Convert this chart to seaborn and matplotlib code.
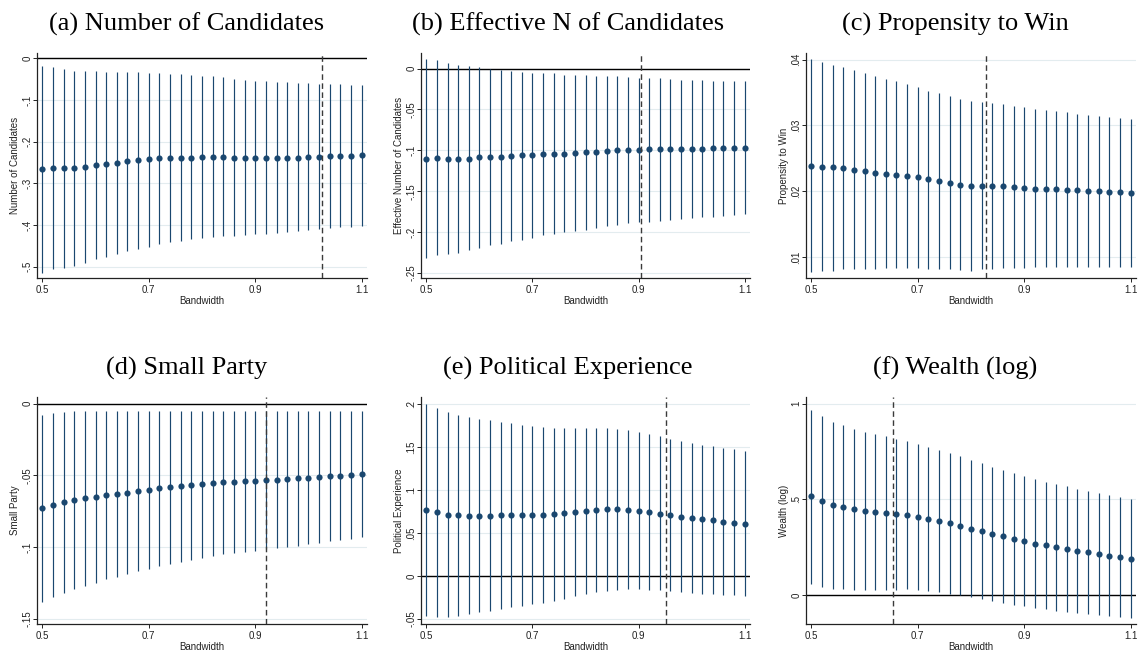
import matplotlib
matplotlib.use("Agg")
import matplotlib.pyplot as plt
import seaborn as sns

sns.set_theme(style="white")
plt.rcParams["font.family"] = ["Liberation Sans", "DejaVu Sans"]

# Bandwidths at which the RD estimate is computed
bandwidth = [0.50, 0.52, 0.54, 0.56, 0.58, 0.60, 0.62, 0.64, 0.66, 0.68,
             0.70, 0.72, 0.74, 0.76, 0.78, 0.80, 0.82, 0.84, 0.86, 0.88,
             0.90, 0.92, 0.94, 0.96, 0.98, 1.00, 1.02, 1.04, 1.06, 1.08, 1.10]

# (a) Number of candidates
est_a = [-0.266, -0.263, -0.263, -0.263, -0.260, -0.256, -0.254, -0.251, -0.247, -0.244,
         -0.242, -0.240, -0.239, -0.238, -0.238, -0.236, -0.236, -0.236, -0.238, -0.238,
         -0.238, -0.238, -0.238, -0.238, -0.238, -0.237, -0.236, -0.234, -0.234, -0.234, -0.233]
hi_a = [-0.018, -0.020, -0.026, -0.030, -0.030, -0.030, -0.033, -0.034, -0.034, -0.034,
        -0.035, -0.035, -0.037, -0.038, -0.040, -0.042, -0.043, -0.046, -0.049, -0.052,
        -0.054, -0.055, -0.057, -0.058, -0.059, -0.060, -0.061, -0.061, -0.062, -0.063, -0.063]
lo_a = [-0.516, -0.506, -0.502, -0.498, -0.490, -0.482, -0.476, -0.470, -0.462, -0.457,
        -0.452, -0.445, -0.441, -0.438, -0.434, -0.430, -0.428, -0.426, -0.426, -0.424,
        -0.422, -0.421, -0.418, -0.417, -0.414, -0.413, -0.410, -0.406, -0.405, -0.404, -0.402]

# (b) Effective number of candidates
est_b = [-0.110, -0.109, -0.110, -0.110, -0.110, -0.1085, -0.1085, -0.108, -0.107, -0.106,
         -0.106, -0.105, -0.104, -0.104, -0.103, -0.102, -0.1016, -0.101, -0.100, -0.099,
         -0.099, -0.098, -0.098, -0.098, -0.098, -0.098, -0.098, -0.0976, -0.0976, -0.0976, -0.097]
hi_b = [0.012, 0.010, 0.007, 0.0045, 0.003, 0.0016, -0.0004, -0.0016, -0.0024, -0.0037,
        -0.005, -0.0057, -0.006, -0.0073, -0.008, -0.008, -0.0093, -0.0093, -0.0093, -0.0098,
        -0.011, -0.011, -0.0118, -0.0126, -0.0134, -0.0142, -0.0146, -0.015, -0.0154, -0.0158, -0.0158]
lo_b = [-0.232, -0.228, -0.227, -0.225, -0.222, -0.219, -0.216, -0.214, -0.211, -0.209,
        -0.207, -0.204, -0.202, -0.200, -0.198, -0.197, -0.195, -0.193, -0.191, -0.189,
        -0.188, -0.187, -0.186, -0.185, -0.184, -0.183, -0.181, -0.181, -0.180, -0.179, -0.178]

# (c) Propensity to win
est_c = [0.0239, 0.0237, 0.0236, 0.0235, 0.0232, 0.0230, 0.0228, 0.0226, 0.0225, 0.0223,
         0.0221, 0.0218, 0.0215, 0.0212, 0.0210, 0.0208, 0.0208, 0.0208, 0.0208, 0.0207,
         0.0205, 0.0204, 0.0204, 0.0203, 0.0202, 0.0202, 0.0201, 0.0200, 0.0199, 0.0198, 0.0197]
hi_c = [0.0401, 0.0396, 0.0392, 0.0389, 0.0384, 0.0379, 0.0375, 0.0370, 0.0367, 0.0363,
        0.0358, 0.0353, 0.0349, 0.0344, 0.0340, 0.0337, 0.0335, 0.0334, 0.0332, 0.0330,
        0.0328, 0.0325, 0.0323, 0.0322, 0.0320, 0.0318, 0.0316, 0.0315, 0.0313, 0.0311, 0.0309]
lo_c = [0.0077, 0.0078, 0.0079, 0.0081, 0.0081, 0.0082, 0.0082, 0.0083, 0.0083, 0.0083,
        0.0083, 0.0082, 0.0081, 0.0081, 0.0080, 0.0079, 0.0081, 0.0082, 0.0083, 0.0083,
        0.0083, 0.0084, 0.0084, 0.0084, 0.0084, 0.0084, 0.0084, 0.0084, 0.0084, 0.0084, 0.0084]

# (d) Small party
est_d = [-0.0730, -0.0707, -0.0688, -0.0674, -0.0660, -0.0651, -0.0637, -0.0628, -0.0621, -0.0612,
         -0.0600, -0.0588, -0.0579, -0.0572, -0.0565, -0.0558, -0.0551, -0.0547, -0.0544, -0.0540,
         -0.0537, -0.0533, -0.0530, -0.0526, -0.0521, -0.0516, -0.0509, -0.0505, -0.0502, -0.0495, -0.0491]
hi_d = [-0.0079, -0.0065, -0.0056, -0.0053, -0.0053, -0.0053, -0.0052, -0.0052, -0.0052, -0.0052,
        -0.0052, -0.0052, -0.0052, -0.0052, -0.0052, -0.0052, -0.0052, -0.0052, -0.0052, -0.0052,
        -0.0052, -0.0051, -0.0051, -0.0051, -0.0051, -0.0050, -0.0050, -0.0050, -0.0049, -0.0049, -0.0049]
lo_d = [-0.1386, -0.1351, -0.1319, -0.1293, -0.1270, -0.1249, -0.1226, -0.1207, -0.1191, -0.1170,
        -0.1153, -0.1135, -0.1116, -0.1102, -0.1088, -0.1074, -0.1060, -0.1049, -0.1040, -0.1033,
        -0.1026, -0.1014, -0.1007, -0.0998, -0.0991, -0.0981, -0.0970, -0.0960, -0.0953, -0.0944, -0.0933]

# (e) Political experience
est_e = [0.0767, 0.0740, 0.0713, 0.0705, 0.0701, 0.0701, 0.0701, 0.0705, 0.0705, 0.0705,
         0.0705, 0.0709, 0.0717, 0.0729, 0.0744, 0.0752, 0.0767, 0.0775, 0.0775, 0.0767,
         0.0756, 0.0740, 0.0725, 0.0705, 0.0690, 0.0674, 0.0659, 0.0647, 0.0631, 0.0620, 0.0608]
hi_e = [0.2004, 0.1953, 0.1903, 0.1872, 0.1848, 0.1829, 0.1809, 0.1794, 0.1774, 0.1759,
        0.1743, 0.1732, 0.1724, 0.1724, 0.1724, 0.1724, 0.1724, 0.1720, 0.1712, 0.1697,
        0.1673, 0.1646, 0.1623, 0.1596, 0.1572, 0.1545, 0.1526, 0.1506, 0.1487, 0.1471, 0.1452]
lo_e = [-0.0469, -0.0473, -0.0477, -0.0465, -0.0446, -0.0426, -0.0407, -0.0383, -0.0364, -0.0348,
        -0.0333, -0.0310, -0.0290, -0.0267, -0.0240, -0.0212, -0.0189, -0.0173, -0.0162, -0.0158,
        -0.0158, -0.0162, -0.0170, -0.0181, -0.0189, -0.0201, -0.0208, -0.0216, -0.0220, -0.0228, -0.0232]

# (f) Wealth (log)
est_f = [0.516, 0.490, 0.470, 0.460, 0.449, 0.441, 0.436, 0.430, 0.425, 0.420,
         0.409, 0.399, 0.389, 0.376, 0.364, 0.348, 0.334, 0.322, 0.308, 0.294,
         0.282, 0.270, 0.260, 0.251, 0.240, 0.232, 0.225, 0.216, 0.207, 0.199, 0.190]
hi_f = [0.967, 0.934, 0.906, 0.887, 0.869, 0.854, 0.841, 0.829, 0.817, 0.807,
        0.791, 0.775, 0.760, 0.744, 0.725, 0.706, 0.688, 0.671, 0.653, 0.638,
        0.620, 0.606, 0.592, 0.580, 0.568, 0.556, 0.545, 0.535, 0.524, 0.514, 0.502]
lo_f = [0.059, 0.044, 0.035, 0.031, 0.028, 0.026, 0.028, 0.030, 0.030, 0.031,
        0.026, 0.021, 0.016, 0.009, 0.000, -0.010, -0.019, -0.028, -0.038, -0.049,
        -0.057, -0.066, -0.073, -0.080, -0.087, -0.092, -0.099, -0.105, -0.110, -0.115, -0.120]

titles = ["(a) Number of Candidates", "(b) Effective N of Candidates", "(c) Propensity to Win",
          "(d) Small Party", "(e) Political Experience", "(f) Wealth (log)"]
ylabels = ["Number of Candidates", "Effective Number of Candidates", "Propensity to Win",
           "Small Party", "Political Experience", "Wealth (log)"]
estimates = [est_a, est_b, est_c, est_d, est_e, est_f]
upper = [hi_a, hi_b, hi_c, hi_d, hi_e, hi_f]
lower = [lo_a, lo_b, lo_c, lo_d, lo_e, lo_f]

# Optimal bandwidth marked by the dashed line
optimal_bw = [1.025, 0.904, 0.828, 0.920, 0.952, 0.653]

yticks = [[0, -0.1, -0.2, -0.3, -0.4, -0.5],
          [0, -0.05, -0.1, -0.15, -0.2, -0.25],
          [0.04, 0.03, 0.02, 0.01],
          [0, -0.05, -0.1, -0.15],
          [0.2, 0.15, 0.1, 0.05, 0, -0.05],
          [1, 0.5, 0]]
yticklabels = [["0", "-.1", "-.2", "-.3", "-.4", "-.5"],
               ["0", "-.05", "-.1", "-.15", "-.2", "-.25"],
               [".04", ".03", ".02", ".01"],
               ["0", "-.05", "-.1", "-.15"],
               [".2", ".15", ".1", ".05", "0", "-.05"],
               ["1", ".5", "0"]]
xticks = [0.5, 0.7, 0.9, 1.1]
xticklabels = ["0.5", "0.7", "0.9", "1.1"]

ylims = [(-0.527, 0.0127), (-0.256, 0.019), (0.0068, 0.041),
         (-0.1537, 0.0047), (-0.056, 0.208), (-0.15, 1.035)]
xlim = (0.49, 1.11)

W, H = 1138, 653
fig = plt.figure(figsize=(W / 100, H / 100), dpi=100)
fig.patch.set_facecolor("white")

# panel boxes in pixels: left, right, top, bottom
col_lr = [(37, 367), (421, 750), (806, 1136)]
row_tb = [(53, 278), (397, 624)]
title_x = [187, 568, 955]
title_y = [24, 368]

navy = "#1a476f"

for i in range(6):
    r, c = divmod(i, 3)
    l, rt = col_lr[c]
    t, b = row_tb[r]
    ax = fig.add_axes([l / W, 1 - b / H, (rt - l) / W, (b - t) / H])
    ax.set_facecolor("white")

    for yv in yticks[i]:
        ax.axhline(yv, color="#e3ecef", lw=0.8, zorder=0)
    if ylims[i][0] < 0 < ylims[i][1]:
        ax.axhline(0, color="black", lw=1.0, zorder=1)

    ax.vlines(bandwidth, lower[i], upper[i], color=navy, lw=0.85, zorder=2)
    sns.scatterplot(x=bandwidth, y=estimates[i], ax=ax, color=navy, s=20,
                    linewidth=0, zorder=3, legend=False)
    ax.axvline(optimal_bw[i], color="#3a3a3a", lw=1.0, ls=(0, (4, 2.5)), zorder=4)

    ax.set_xlim(*xlim)
    ax.set_ylim(*ylims[i])
    ax.set_xticks(xticks)
    ax.set_xticklabels(xticklabels)
    ax.set_yticks(yticks[i])
    ax.set_yticklabels(yticklabels[i], rotation=90, va="center")
    ax.grid(False)
    for side in ("top", "right"):
        ax.spines[side].set_visible(False)
    for side in ("left", "bottom"):
        ax.spines[side].set_color("#222222")
        ax.spines[side].set_linewidth(0.9)
    ax.tick_params(axis="both", direction="out", length=3, width=0.7, color="#222222",
                   labelsize=7, labelcolor="#222222", pad=2, left=True, bottom=True)
    ax.tick_params(axis="y", pad=0.5)
    ax.set_xlabel("Bandwidth", fontsize=7, color="#222222", labelpad=1)
    ax.set_ylabel(ylabels[i], fontsize=7, color="#222222", labelpad=1.5)

    fig.text(title_x[c] / W, 1 - title_y[r] / H, titles[i], ha="center", va="center",
             family="Liberation Serif", fontsize=19, color="black")

fig.savefig("out.png", dpi=100, facecolor="white")
